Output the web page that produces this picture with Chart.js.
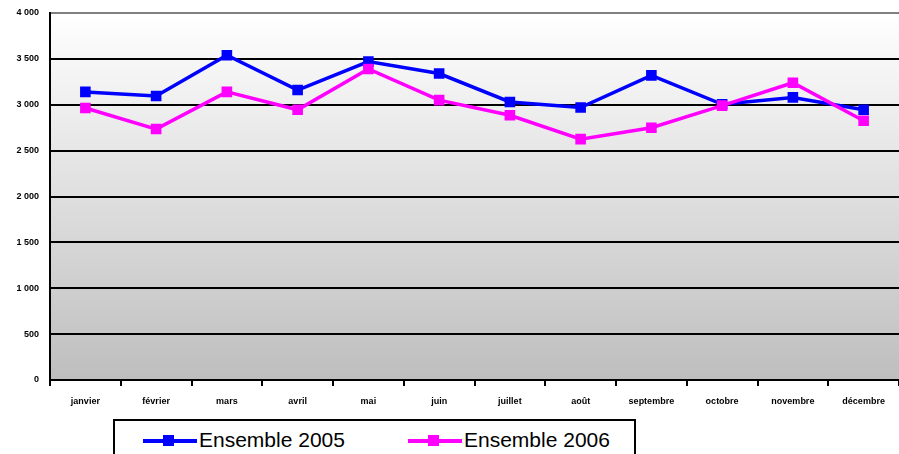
<!DOCTYPE html>
<html lang="fr">
<head>
    <meta charset="UTF-8">
    <title>Ensemble 2005 / 2006</title>
    <script src="https://cdn.jsdelivr.net/npm/chart.js"></script>
    <style>
        body {
            margin: 0;
            background: #fff;
            font-family: Arial, "Liberation Sans", sans-serif;
        }
        #wrap {
            position: relative;
            width: 899px;
            height: 454px;
            overflow: hidden;
        }
        #legende {
            position: absolute;
            left: 113px;
            top: 419px;
            width: 519px;
            height: 50px;
            border: 2px solid #000;
            background: #fff;
        }
        .item {
            position: absolute;
            top: 6px;
            height: 26px;
            font-size: 21px;
            line-height: 26px;
            color: #000;
            white-space: nowrap;
        }
        .trait {
            position: absolute;
            left: 0;
            top: 12px;
            width: 54px;
            height: 4px;
        }
        .carre {
            position: absolute;
            left: 20px;
            top: 8px;
            width: 11px;
            height: 11px;
        }
        .item span.txt {
            position: absolute;
            left: 56px;
        }
    </style>
</head>
<body>
    <div id="wrap">
        <canvas id="graphique" width="899" height="454"></canvas>
        <div id="legende"></div>
    </div>

    <script>
        const mois = ['janvier', 'février', 'mars', 'avril', 'mai', 'juin', 'juillet', 'août', 'septembre', 'octobre', 'novembre', 'décembre'];
        const ensemble2005 = [3140, 3095, 3540, 3160, 3470, 3340, 3030, 2970, 3320, 3005, 3080, 2945];
        const ensemble2006 = [2965, 2735, 3140, 2945, 3390, 3050, 2885, 2625, 2750, 2990, 3240, 2825];
        const seriesNoms = ['Ensemble 2005', 'Ensemble 2006'];
        const seriesCouleurs = ['#0000ff', '#ff00ff'];

        // fond dégradé de la zone de tracé
        const fondDegrade = {
            id: 'fondDegrade',
            beforeDraw(chart) {
                const a = chart.chartArea;
                const ctx = chart.ctx;
                const g = ctx.createLinearGradient(0, a.top, 0, a.bottom);
                g.addColorStop(0, '#ffffff');
                g.addColorStop(1, '#bebebe');
                ctx.save();
                ctx.fillStyle = g;
                ctx.fillRect(a.left, a.top, a.right - a.left, a.bottom - a.top);
                ctx.restore();
            }
        };

        function formatMilliers(v) {
            return v.toString().replace(/\B(?=(\d{3})+(?!\d))/g, ' ');
        }

        const ctx = document.getElementById('graphique').getContext('2d');
        new Chart(ctx, {
            type: 'line',
            data: {
                labels: mois,
                datasets: [
                    {
                        label: seriesNoms[0],
                        data: ensemble2005,
                        borderColor: seriesCouleurs[0],
                        backgroundColor: seriesCouleurs[0],
                        borderWidth: 3.5,
                        pointStyle: 'rect',
                        pointRadius: 7.5,
                        pointBorderWidth: 0,
                        tension: 0,
                        order: 1
                    },
                    {
                        label: seriesNoms[1],
                        data: ensemble2006,
                        borderColor: seriesCouleurs[1],
                        backgroundColor: seriesCouleurs[1],
                        borderWidth: 3.5,
                        pointStyle: 'rect',
                        pointRadius: 7.5,
                        pointBorderWidth: 0,
                        tension: 0,
                        order: 0
                    }
                ]
            },
            options: {
                responsive: false,
                animation: false,
                layout: { autoPadding: false, padding: { top: 13, right: 0, left: 0, bottom: 0 } },
                plugins: {
                    legend: { display: false },
                    tooltip: { enabled: false }
                },
                scales: {
                    x: {
                        offset: true,
                        afterFit(axis) { axis.height = 74; axis.paddingLeft = 0; axis.paddingRight = 0; },
                        grid: {
                            offset: true,
                            drawOnChartArea: false,
                            drawTicks: true,
                            tickLength: 6,
                            color: '#000',
                            lineWidth: 2
                        },
                        border: { color: '#000', width: 2 },
                        ticks: {
                            color: '#000',
                            font: { family: 'Arial', size: 9, weight: 'bold' },
                            padding: 10,
                            maxRotation: 0,
                            autoSkip: false
                        }
                    },
                    y: {
                        min: 0,
                        max: 4000,
                        afterFit(axis) { axis.width = 50; axis.paddingTop = 0; axis.paddingBottom = 0; },
                        grid: {
                            drawTicks: false,
                            color: c => c.tick && c.tick.value === 4000 ? '#808080' : '#000',
                            lineWidth: 2
                        },
                        border: { color: '#000', width: 2 },
                        ticks: {
                            stepSize: 500,
                            color: '#000',
                            padding: 11,
                            font: { family: 'Arial', size: 9, weight: 'bold' },
                            callback: v => formatMilliers(v)
                        }
                    }
                }
            },
            plugins: [fondDegrade]
        });

        // légende en bas
        const legende = document.getElementById('legende');
        const positions = [28, 293];
        seriesNoms.forEach((nom, i) => {
            const it = document.createElement('div');
            it.className = 'item';
            it.style.left = positions[i] + 'px';
            it.innerHTML = '<div class="trait" style="background:' + seriesCouleurs[i] + '"></div>' +
                '<div class="carre" style="background:' + seriesCouleurs[i] + '"></div>' +
                '<span class="txt">' + nom + '</span>';
            legende.appendChild(it);
        });
    </script>
</body>
</html>
